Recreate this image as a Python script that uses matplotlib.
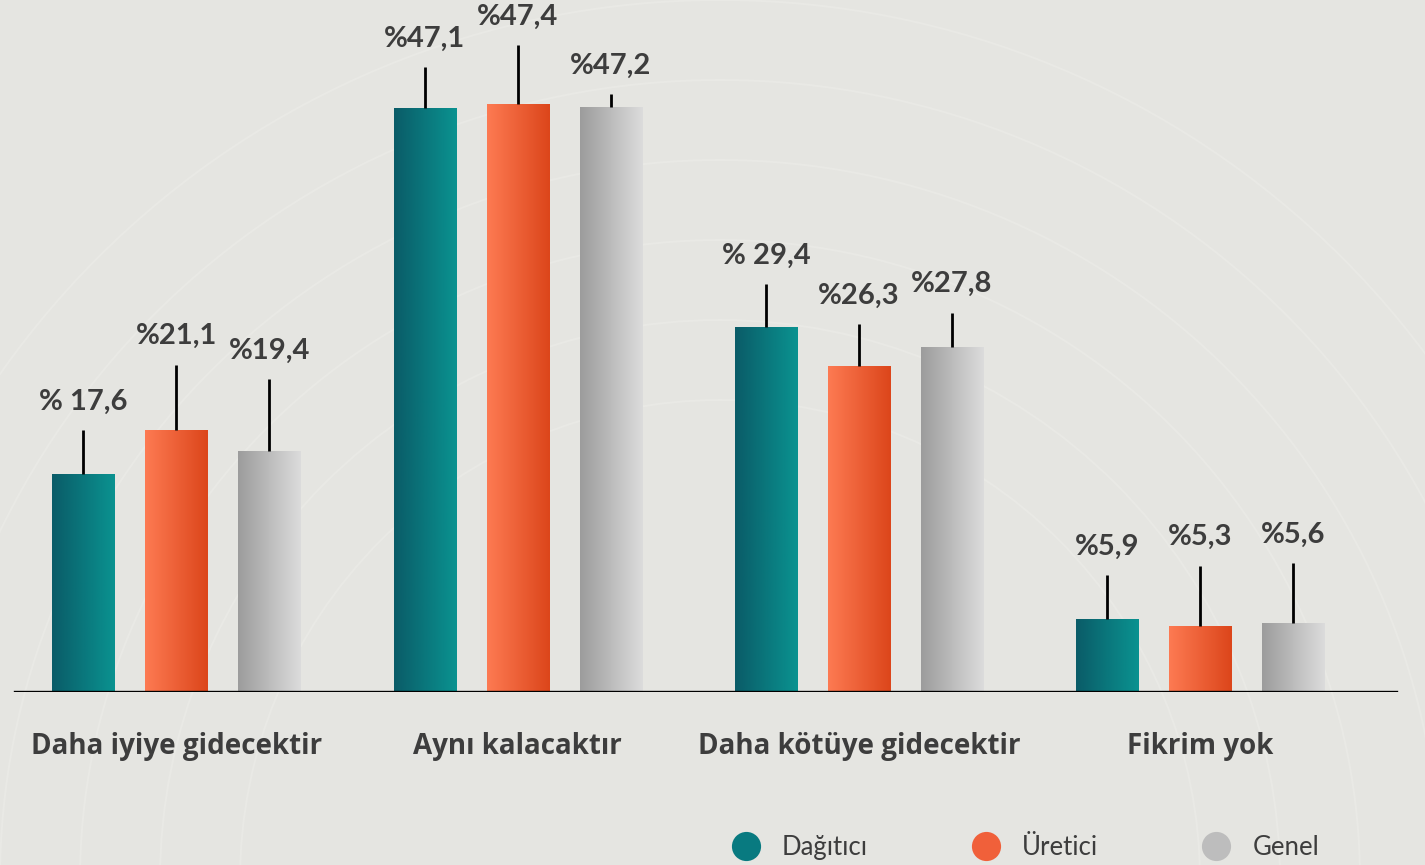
import numpy as np
import matplotlib.pyplot as plt
from matplotlib.lines import Line2D
from matplotlib.patches import Circle

categories = ["Daha iyiye gidecektir", "Aynı kalacaktır", "Daha kötüye gidecektir", "Fikrim yok"]
series = ["Dağıtıcı", "Üretici", "Genel"]
dagitici = [17.6, 47.1, 29.4, 5.9]
uretici = [21.1, 47.4, 26.3, 5.3]
genel = [19.4, 47.2, 27.8, 5.6]
# upper leader lines (as drawn above each bar)
err_dagitici = [3.5, 3.3, 3.5, 3.5]
err_uretici = [5.3, 4.8, 3.4, 4.9]
err_genel = [5.8, 1.0, 2.8, 4.8]
labels_dagitici = ["% 17,6", "%47,1", "% 29,4", "%5,9"]
labels_uretici = ["%21,1", "%47,4", "%26,3", "%5,3"]
labels_genel = ["%19,4", "%47,2", "%27,8", "%5,6"]

gradients = [("#0a5c68", "#0a9290"), ("#fd7a52", "#dc461b"), ("#9c9c9c", "#dcdcdc")]
mid_colors = ["#087a80", "#f0603a", "#bdbdbd"]
bg = "#e5e5e1"
text_col = "#3d3d3d"

fig = plt.figure(figsize=(14.25, 8.65), dpi=100)
fig.patch.set_facecolor(bg)

# faint decorative arcs in the background
deco = fig.add_axes([0, 0, 1, 1], zorder=-5)
deco.set_xlim(0, 1425)
deco.set_ylim(865, 0)
deco.axis("off")
for r in [480, 560, 640, 720, 800, 880]:
    deco.add_patch(Circle((720, 880), r, fill=False, ec="#ecece8", lw=1.4, alpha=0.6))

ax = fig.add_axes([0, 0.2, 1, 0.8])
ax.set_facecolor("none")

x = np.arange(len(categories))
offset = 0.2725
width = 0.182
grad = np.linspace(0, 1, 64).reshape(1, -1)

all_vals = [dagitici, uretici, genel]
all_err = [err_dagitici, err_uretici, err_genel]
all_labels = [labels_dagitici, labels_uretici, labels_genel]

for i, (vals, errs, labs) in enumerate(zip(all_vals, all_err, all_labels)):
    pos = x + (i - 1) * offset
    bars = ax.bar(pos, vals, width, color="none", zorder=2)
    cmap = plt.matplotlib.colors.LinearSegmentedColormap.from_list("g%d" % i, gradients[i])
    for b in bars:
        x0, y0 = b.get_x(), b.get_y()
        im = ax.imshow(grad, cmap=cmap, aspect="auto", zorder=2,
                       extent=[x0, x0 + b.get_width(), y0, y0 + b.get_height()])
        im.set_clip_path(b)
    ax.vlines(pos, vals, np.array(vals) + np.array(errs), color="black", lw=2.0, zorder=3)
    for p, v, e, t in zip(pos, vals, errs, labs):
        ax.annotate(t, (p, v + e), xytext=(0, 11), textcoords="offset points",
                    ha="center", va="bottom", fontsize=21, fontweight="bold",
                    family="Lato", color=text_col)

ax.set_xlim(-0.517, 3.659)
ax.set_ylim(0, 55.8)
ax.axhline(0, xmin=0.0105, xmax=0.98, color="black", lw=1.7, zorder=4)

ax.set_xticks(x, categories, fontsize=20, fontweight="bold", family="Open Sans", color=text_col)
ax.tick_params(axis="x", length=0, pad=29)
ax.set_yticks([])
for s in ax.spines.values():
    s.set_visible(False)

handles = [Line2D([], [], ls="none", marker="o", markersize=21, markerfacecolor=c,
                  markeredgecolor="none") for c in mid_colors]
leg = fig.legend(handles, series, loc="center", bbox_to_anchor=(0.72, 0.02), ncol=3,
                 frameon=False, handlelength=1.0, handletextpad=0.9, columnspacing=4.1,
                 prop={"family": "Lato", "size": 18.5})
for t in leg.get_texts():
    t.set_color(text_col)

fig.savefig("out.png", dpi=100, facecolor=bg)
